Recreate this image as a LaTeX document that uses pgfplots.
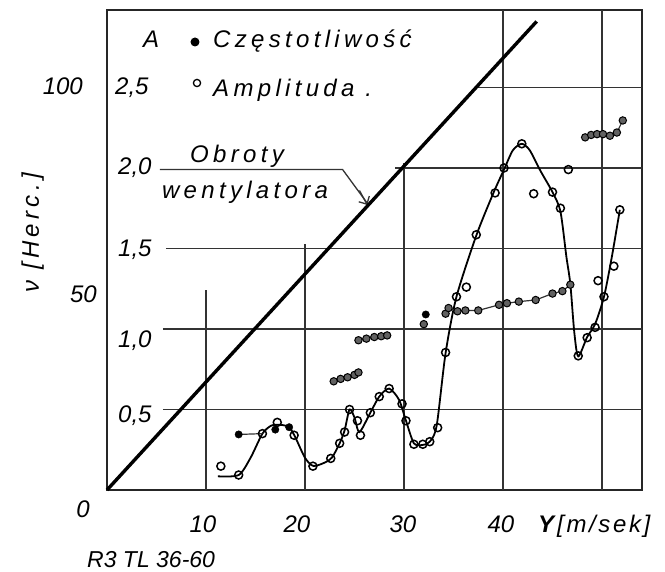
\documentclass[border=0pt]{standalone}
\usepackage{pgfplots}
\pgfplotsset{compat=1.18}
\usepackage{pgfplotstable}
\usetikzlibrary{arrows.meta}
\usepackage{fontspec}
\setmainfont{Liberation Sans}
\newfontfamily\lettering[LetterSpace=18]{Liberation Sans}
\newfontfamily\letteringb[LetterSpace=11]{Liberation Sans}
\newcommand\lf{\fontsize{24}{28}\selectfont\itshape}
\newcommand\lw{\lettering\fontsize{24}{28}\selectfont\itshape}
\newcommand\lwb{\letteringb\fontsize{24}{28}\selectfont\itshape}

% Amplitude measurements (Y [m/s], A)
\pgfplotstableread{
Y A
11.5 0.148
13.3 0.093
15.7 0.35
17.2 0.42
18.9 0.34
20.8 0.148
22.6 0.196
23.5 0.29
24.0 0.36
24.5 0.50
25.3 0.43
25.6 0.34
26.6 0.48
27.5 0.58
28.5 0.63
29.8 0.535
30.2 0.43
31.0 0.284
31.9 0.284
32.6 0.30
33.4 0.387
34.2 0.854
35.3 1.20
36.3 1.26
37.3 1.585
39.2 1.845
40.1 2.0
41.9 2.15
43.1 1.84
45.0 1.85
45.8 1.75
46.6 1.99
47.6 0.833
48.5 0.946
49.3 1.01
49.6 1.30
50.2 1.20
51.2 1.39
51.8 1.74
}\amppts

% Amplitude fitted curve
\pgfplotstableread{
Y A
11.2 0.085
13.3 0.093
14.5 0.20
15.7 0.35
16.6 0.40
17.5 0.405
18.4 0.39
19.0 0.33
20.0 0.20
20.8 0.15
21.8 0.165
22.7 0.20
23.5 0.29
24.0 0.37
24.5 0.50
25.0 0.45
25.5 0.36
26.6 0.48
27.5 0.58
28.5 0.63
29.5 0.56
30.2 0.43
31.0 0.29
31.9 0.28
32.6 0.30
33.3 0.40
34.2 0.85
35.3 1.20
37.3 1.58
39.0 1.84
40.1 1.99
41.0 2.11
41.9 2.15
42.7 2.11
43.8 1.98
45.0 1.85
45.8 1.73
46.4 1.45
46.8 1.28
47.2 0.98
47.6 0.83
48.5 0.95
49.3 1.03
50.2 1.20
51.0 1.45
51.8 1.74
}\ampcurve

% Frequency (Y [m/s], nu [Hz]) ; plotted on A scale: A = nu/40
\pgfplotstableread{
Y nu
22.9 27.0
23.6 27.6
24.3 28.0
25.0 28.6
25.4 29.2
}\fa
\pgfplotstableread{
Y nu
25.4 37.2
26.2 37.6
27.0 38.0
27.7 38.2
28.3 38.4
}\fb
\pgfplotstableread{
Y nu
34.2 43.8
34.5 45.2
35.4 44.4
36.2 44.6
37.5 44.6
39.6 46.0
40.4 46.4
41.6 46.8
43.3 47.2
45.0 48.8
46.0 49.4
46.8 51.0
}\fc
\pgfplotstableread{
Y nu
48.3 87.6
48.9 88.2
49.5 88.4
50.1 88.4
50.8 88.0
51.5 88.8
52.1 91.8
}\fd

\begin{document}
\begin{tikzpicture}
\useasboundingbox (-107pt,-82pt) rectangle (558pt,490pt);
\begin{axis}[
  at={(0pt,0pt)}, anchor=south west,
  scale only axis, width=535pt, height=480pt,
  xmin=0, xmax=54.04, ymin=0, ymax=2.981,
  xtick=\empty, ytick=\empty,
  axis line style={line width=2.3pt, black!85},
  clip=false,
  freq/.style={only marks, mark=*, mark size=3.7pt,
     mark options={fill=black!62, draw=black, line width=1pt}},
  fline/.style={black!80, line width=1.2pt},
]
% grid
\begin{scope}[black!80, line width=1.3pt]
\draw (axis cs:5.65,0.5) -- (axis cs:54.04,0.5);
\draw (axis cs:5.65,1.0) -- (axis cs:54.04,1.0);
\draw (axis cs:5.95,1.5) -- (axis cs:54.04,1.5);
\draw (axis cs:29.1,2.0) -- (axis cs:54.04,2.0);
\draw (axis cs:37.4,2.5) -- (axis cs:54.04,2.5);
\draw (axis cs:10,0) -- (axis cs:10,1.24);
\draw (axis cs:20,0) -- (axis cs:20,1.53);
\draw (axis cs:30,0) -- (axis cs:30,2.03);
\draw (axis cs:40,0) -- (axis cs:40,2.981);
\draw (axis cs:50,0) -- (axis cs:50,2.981);
% leader line for "Obroty wentylatora"
\draw (axis cs:5.35,1.99) -- (axis cs:23.8,1.99) -- (axis cs:26.3,1.78);
\draw[-{Straight Barb[length=6pt]}] (axis cs:25.5,1.86) -- (axis cs:26.3,1.77);
\end{scope}
% fan rotation line
\addplot[black, line width=3.4pt] coordinates {(0,0) (43.4,2.91)};
% amplitude curve
\addplot[black, line width=1.8pt, smooth, tension=0.45] table[x=Y,y=A] {\ampcurve};
% frequency connecting lines
\addplot[fline] coordinates {(13.3,0.345) (15.7,0.35)};
\addplot[fline] table[x=Y, y expr=\thisrow{nu}/40] {\fa};
\addplot[fline] table[x=Y, y expr=\thisrow{nu}/40] {\fb};
\addplot[fline] table[x=Y, y expr=\thisrow{nu}/40] {\fc};
\addplot[fline] table[x=Y, y expr=\thisrow{nu}/40] {\fd};
% amplitude markers
\addplot[only marks, mark=o, mark size=4pt, mark options={fill=white, draw=black, line width=1.5pt}] table[x=Y,y=A] {\amppts};
% frequency markers
\addplot[freq, mark options={fill=black}] coordinates {(13.3,0.345) (17.0,0.375) (18.4,0.39) (32.2,1.09)};
\addplot[freq] coordinates {(32.0,1.03)};
\addplot[freq] table[x=Y, y expr=\thisrow{nu}/40] {\fa};
\addplot[freq] table[x=Y, y expr=\thisrow{nu}/40] {\fb};
\addplot[freq] table[x=Y, y expr=\thisrow{nu}/40] {\fc};
\addplot[freq] table[x=Y, y expr=\thisrow{nu}/40] {\fd};
\end{axis}
% legend symbols
\fill[black] (88pt,448pt) circle (4.5pt);
\draw[black, line width=1.3pt, fill=white] (90pt,407pt) circle (3.6pt);
% texts
\node[anchor=base west, inner sep=0pt, font=\lf] at (36pt,442pt) {A};
\node[anchor=base west, inner sep=0pt, font=\lw] at (106pt,442pt) {Częstotliwość};
\node[anchor=base west, inner sep=0pt, font=\lw] at (106pt,393pt) {Amplituda .};
\node[anchor=base, inner sep=0pt, font=\lw] at (130pt,327pt) {Obroty};
\node[anchor=base, inner sep=0pt, font=\lw] at (138pt,291pt) {wentylatora};
\node[anchor=base west, inner sep=0pt, font=\lf] at (8pt,395pt) {2,5};
\node[anchor=base west, inner sep=0pt, font=\lf] at (11pt,315pt) {2,0};
\node[anchor=base west, inner sep=0pt, font=\lf] at (11pt,233pt) {1,5};
\node[anchor=base west, inner sep=0pt, font=\lf] at (11pt,142pt) {1,0};
\node[anchor=base west, inner sep=0pt, font=\lf] at (11pt,67pt) {0,5};
\node[anchor=base east, inner sep=0pt, font=\lf] at (-24pt,395pt) {100};
\node[anchor=base east, inner sep=0pt, font=\lf] at (-10pt,187pt) {50};
\node[anchor=base, inner sep=0pt, font=\lf] at (-24pt,-28pt) {0};
\node[anchor=base, inner sep=0pt, font=\lf] at (96pt,-43pt) {10};
\node[anchor=base, inner sep=0pt, font=\lf] at (190pt,-43pt) {20};
\node[anchor=base, inner sep=0pt, font=\lf] at (296pt,-43pt) {30};
\node[anchor=base, inner sep=0pt, font=\lf] at (394pt,-43pt) {40};
\node[anchor=base west, inner sep=0pt, font=\lf\bfseries] at (431pt,-43pt) {Y};
\node[anchor=base west, inner sep=0pt, font=\lwb] at (450pt,-43pt) {[m/sek]};
\node[anchor=base west, inner sep=0pt, font=\fontsize{23}{26}\selectfont\itshape] at (-20pt,-78pt) {R3 TL 36-60};
\node[rotate=90, anchor=base, inner sep=0pt, font=\lw] at (-68pt,257pt) {ν [Herc.]};
\end{tikzpicture}
\end{document}
